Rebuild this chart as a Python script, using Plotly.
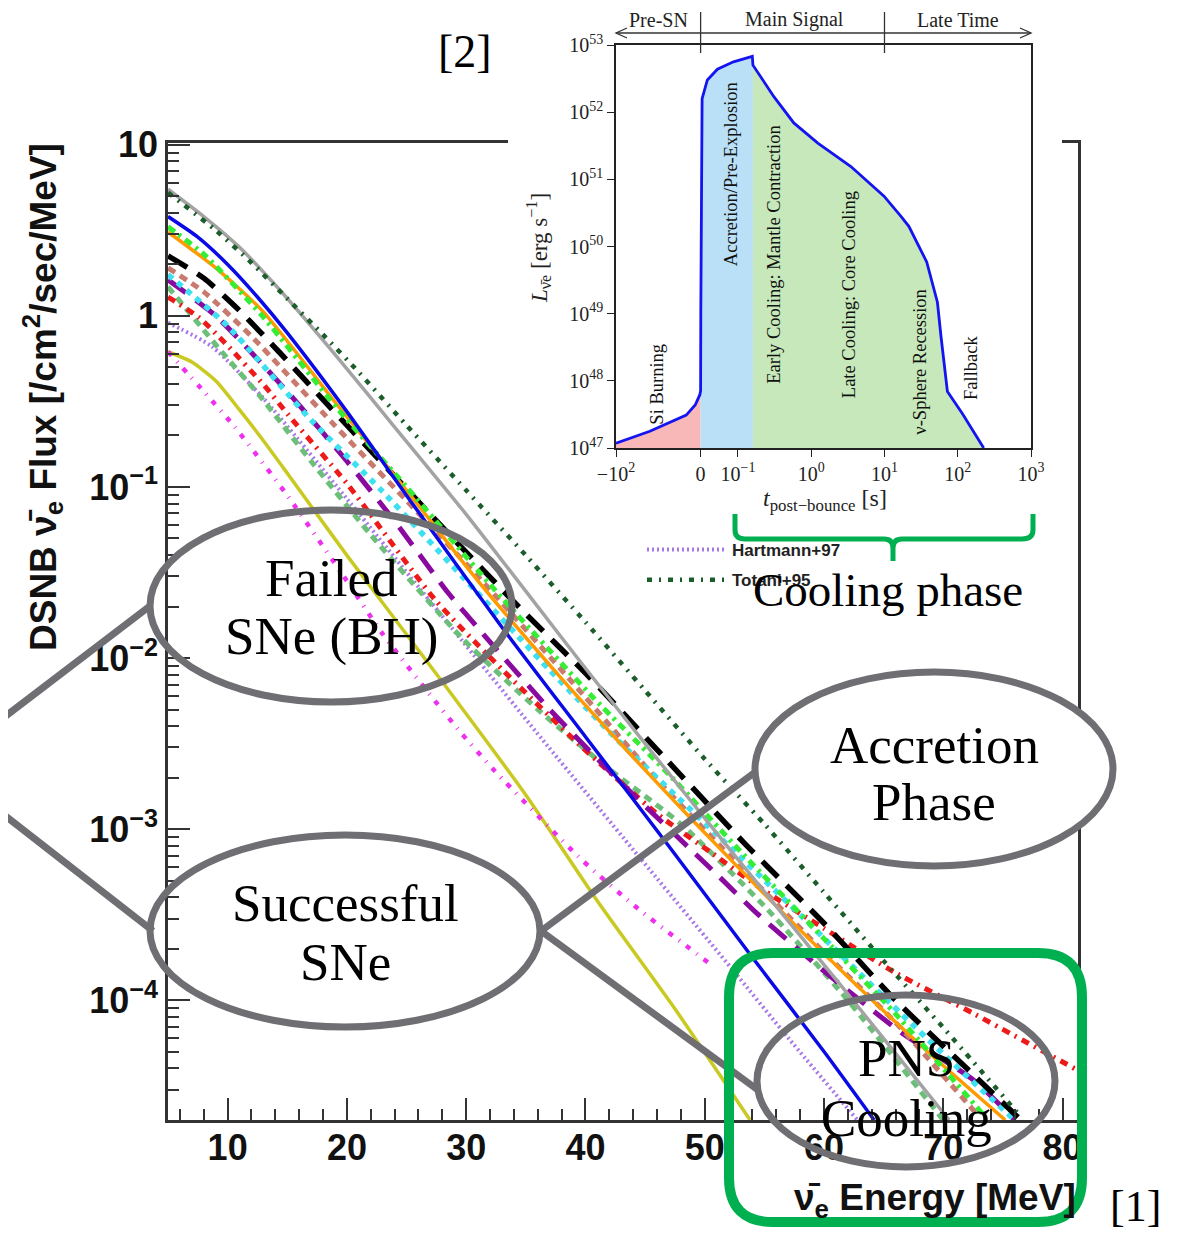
import numpy as np
import plotly.graph_objects as go

W, H = 1179, 1240          # target picture size
PAGE_OFFSET = 8            # default page margin of the html body
FW, FH = W - 2 * PAGE_OFFSET, H - 2 * PAGE_OFFSET

# ---------------- main chart data: energy [MeV] and log10(flux [/cm2/sec/MeV]) ----------------
E_TOTANI = [5, 9, 12, 15, 18, 21, 25, 30, 35, 40, 45, 50, 55, 60, 65, 70, 76.5]
LOGF_TOTANI = [0.72, 0.50, 0.31, 0.10, -0.11, -0.33, -0.64, -1.02, -1.40, -1.79, -2.19, -2.59, -2.97, -3.37, -3.77, -4.16, -4.68]

E_GRAY = [5, 8, 11, 14, 17, 20, 24, 30, 36, 40, 45, 52, 61.5, 70.5]
LOGF_GRAY = [0.74, 0.58, 0.40, 0.18, -0.06, -0.31, -0.65, -1.16, -1.70, -2.06, -2.50, -3.11, -3.92, -4.70]

E_BLUE = [5, 7.5, 10, 12.5, 15, 20, 25, 33, 40, 47, 54, 60, 64.2]
LOGF_BLUE = [0.58, 0.46, 0.30, 0.11, -0.10, -0.56, -1.05, -1.82, -2.46, -3.10, -3.75, -4.30, -4.70]

E_LIME = [5, 8, 12.9, 19.3, 25, 32, 40.5, 47, 53, 60, 66, 73.5]
LOGF_LIME = [0.52, 0.36, 0.0, -0.55, -1.00, -1.57, -2.22, -2.68, -3.13, -3.64, -4.08, -4.68]

E_ORANGE = [5, 9, 12.9, 19.3, 25, 31, 38, 44, 49, 56, 63, 69, 75.2]
LOGF_ORANGE = [0.49, 0.28, 0.03, -0.53, -1.02, -1.55, -2.12, -2.58, -2.95, -3.45, -3.93, -4.32, -4.70]

E_BLACK = [5, 8, 11, 14.3, 18, 23.5, 28.2, 34.4, 40.3, 46.6, 53.3, 60, 66, 72.6, 76.5]
LOGF_BLACK = [0.35, 0.22, 0.03, -0.21, -0.49, -0.90, -1.25, -1.70, -2.11, -2.58, -3.08, -3.55, -4.00, -4.44, -4.70]

E_CYAN = [5, 10, 17, 22.9, 30.7, 37, 43, 51, 58, 65, 71, 76]
LOGF_CYAN = [0.24, -0.06, -0.61, -1.02, -1.60, -2.07, -2.50, -3.03, -3.50, -3.98, -4.38, -4.70]

E_PURPLE = [5, 9, 12.6, 15.6, 20, 24, 28.5, 31.3, 37, 43, 50.8, 54.5, 60, 66.5, 72.6, 76]
LOGF_PURPLE = [0.21, 0.0, -0.26, -0.49, -0.85, -1.20, -1.62, -1.85, -2.30, -2.73, -3.25, -3.50, -3.83, -4.19, -4.47, -4.70]

E_RED = [5, 7.6, 9.8, 13.1, 15.1, 20, 27.4, 33.2, 39.4, 46, 50.6, 55, 60, 66, 72.6, 81.3]
LOGF_RED = [0.11, -0.01, -0.16, -0.41, -0.58, -0.98, -1.66, -2.08, -2.50, -2.91, -3.14, -3.36, -3.58, -3.84, -4.08, -4.41]

E_ROSY = [5, 8, 12, 18.7, 25, 32, 39, 46.4, 53, 60, 66, 73]
LOGF_ROSY = [0.28, 0.14, -0.12, -0.62, -1.08, -1.60, -2.15, -2.74, -3.22, -3.72, -4.13, -4.68]

E_SEAGREEN = [5, 9.5, 12.6, 17, 22, 29.6, 36, 42, 48, 55, 62, 70]
LOGF_SEAGREEN = [0.17, -0.21, -0.46, -0.85, -1.28, -1.88, -2.30, -2.65, -2.97, -3.45, -4.00, -4.70]

E_HARTMANN = [5, 8.7, 13.1, 20, 27, 36.9, 44, 52.2, 57, 62.8]
LOGF_HARTMANN = [-0.04, -0.18, -0.49, -1.07, -1.67, -2.52, -3.12, -3.81, -4.22, -4.70]

E_MAGENTA = [5, 8.1, 10.6, 15, 20, 22.9, 26.8, 29.6, 32.4, 39.7, 44.5, 50.3]
LOGF_MAGENTA = [-0.21, -0.45, -0.65, -1.05, -1.55, -1.85, -2.20, -2.44, -2.66, -3.18, -3.47, -3.78]

E_YELLOW = [5, 7, 9, 11, 13, 15, 20, 27.9, 35, 41, 47.5, 53.8]
LOGF_YELLOW = [-0.21, -0.27, -0.38, -0.55, -0.73, -0.92, -1.40, -2.13, -2.80, -3.42, -4.05, -4.70]

X_TICKS = [10, 20, 30, 40, 50, 60, 70, 80]
X_MINOR = [6, 8, 12, 14, 16, 18, 22, 24, 26, 28, 32, 34, 36, 38, 42, 44, 46, 48,
           52, 54, 56, 58, 62, 64, 66, 68, 72, 74, 76, 78]
Y_DECADES = [-4, -3, -2, -1, 0, 1]
Y_TICKTEXT = ["10<sup>\u22124</sup>", "10<sup>\u22123</sup>", "10<sup>\u22122</sup>",
              "10<sup>\u22121</sup>", "1", "10"]

# ---------------- inset data: time after bounce [s] and log10(L [erg/s]) ----------------
T_LUM = [-100, -60, -17, -6.4, -1, 0, 0.0005, 0.002, 0.004, 0.018, 0.045, 0.088, 0.157,
         0.16, 0.309, 0.578, 1.23, 3.48, 9.85, 16.8, 21.5, 37.7, 44.6, 52.8, 59.1, 66.1,
         72.3, 116, 226]
LOGL_LUM = [47.07, 47.25, 47.49, 47.64, 47.79, 47.85, 49.0, 51.5, 52.2, 52.48, 52.64, 52.75,
            52.83, 52.70, 52.23, 51.84, 51.54, 51.19, 50.75, 50.45, 50.30, 49.77, 49.46,
            49.17, 48.66, 48.16, 47.84, 47.51, 47.0]
REGION_EDGES_T = [-100, 0, 0.16, 226]
INSET_T_TICKS = [-100, 0, 0.1, 1, 10, 100, 1000]
INSET_T_TICKTEXT = ["\u221210<sup>2</sup>", "0", "10<sup>\u22121</sup>", "10<sup>0</sup>",
                    "10<sup>1</sup>", "10<sup>2</sup>", "10<sup>3</sup>"]
INSET_L_DECADES = [47, 48, 49, 50, 51, 52, 53]
PHASE_LABELS = ["Si Burning", "Accretion/Pre-Explosion", "Early Cooling: Mantle Contraction",
                "Late Cooling: Core Cooling", "\u03bd-Sphere Recession", "Fallback"]
PHASE_LABEL_T = [-51, 0.08, 0.309, 3.31, 30.2, 151]
PHASE_LABEL_LOGL = [47.95, 51.07, 49.875, 49.28, 48.28, 48.19]
SIGNAL_LABELS = ["Pre-SN", "Main Signal", "Late Time"]
SIGNAL_EDGES_T = [0, 10]

# ---------------- styles ----------------
SANS = "Liberation Sans"
SERIF = "Liberation Serif"
GRAY = "#6e6e73"
GREEN_BOX = "#00b050"

series = [
    # (name, E, logF, color, width, dash, legend)
    ("Yellow", E_YELLOW, LOGF_YELLOW, "#c9c922", 3.5, "solid", False),
    ("Magenta", E_MAGENTA, LOGF_MAGENTA, "#ee30ee", 4.5, "5px,8px,1px,8px", False),
    ("Hartmann+97", E_HARTMANN, LOGF_HARTMANN, "#a878e8", 4, "2px,3px", True),
    ("SeaGreen", E_SEAGREEN, LOGF_SEAGREEN, "#6cbf78", 5, "8px,6px", False),
    ("Red", E_RED, LOGF_RED, "#ee1a1a", 5, "8px,6px,2px,6px", False),
    ("Purple", E_PURPLE, LOGF_PURPLE, "#8a0aa0", 5, "22px,12px", False),
    ("Rosy", E_ROSY, LOGF_ROSY, "#c87a6e", 5, "8px,6px", False),
    ("Cyan", E_CYAN, LOGF_CYAN, "#3de0f0", 5.5, "6px,6px", False),
    ("Black", E_BLACK, LOGF_BLACK, "#000000", 5.5, "22px,12px", False),
    ("Orange", E_ORANGE, LOGF_ORANGE, "#ff9a00", 3.5, "solid", False),
    ("Lime", E_LIME, LOGF_LIME, "#33ee33", 5, "8px,5px,3px,5px", False),
    ("Blue", E_BLUE, LOGF_BLUE, "#0a0ae6", 3.5, "solid", False),
    ("Gray", E_GRAY, LOGF_GRAY, "#a3a3a3", 3.5, "solid", False),
    ("Totani+95", E_TOTANI, LOGF_TOTANI, "#1b5e2b", 4.5, "5px,7px,2px,7px", True),
]


def fx(p):
    """picture pixel -> paper fraction (x)"""
    return (p - PAGE_OFFSET) / FW


def fy(p):
    """picture pixel -> paper fraction (y)"""
    return 1 - (p - PAGE_OFFSET) / FH


def u_of(t):
    """symlog-like time scale of the inset (linear for t<0 and 0<=t<=0.1, log above)."""
    t = float(t)
    if t < 0:
        return 1.155 * t / 100.0
    if t <= 0.1:
        return 0.51 * t / 0.1
    return 0.51 + float(np.log10(t / 0.1))


fig = go.Figure()

for name, e, lf, color, width, dash, leg in series:
    fig.add_trace(go.Scatter(
        x=e, y=[10.0 ** v for v in lf], mode="lines", name=name,
        line=dict(color=color, width=width, dash=dash, shape="spline", smoothing=0.6),
        showlegend=leg, legendgroup=name, hoverinfo="skip", xaxis="x", yaxis="y"))

# invisible placeholder so that the white backdrop subplot behind the inset exists
fig.add_trace(go.Scatter(x=[0.5], y=[0.5], mode="markers", marker=dict(opacity=0),
                         showlegend=False, hoverinfo="skip", xaxis="x2", yaxis="y2"))

# ---------------- inset ----------------
u_lum = [u_of(t) for t in T_LUM]
fills = ["rgba(248,184,184,1)", "rgba(186,224,248,1)", "rgba(198,232,186,1)"]
for i in range(3):
    t0, t1 = REGION_EDGES_T[i], REGION_EDGES_T[i + 1]
    idx = [k for k, t in enumerate(T_LUM) if t0 <= t <= t1]
    xs = [u_lum[k] for k in idx] + [u_of(t1), u_of(t0)]
    ys = [10.0 ** LOGL_LUM[k] for k in idx] + [10.0 ** INSET_L_DECADES[0]] * 2
    fig.add_trace(go.Scatter(x=xs, y=ys, fill="toself", fillcolor=fills[i], mode="none",
                             showlegend=False, hoverinfo="skip", xaxis="x3", yaxis="y3"))
fig.add_trace(go.Scatter(x=u_lum, y=[10.0 ** v for v in LOGL_LUM], mode="lines",
                         line=dict(color="#1414f0", width=2.8), showlegend=False,
                         hoverinfo="skip", xaxis="x3", yaxis="y3"))

main_tickfont = dict(family=SANS, size=36, color="#111", weight="bold")
inset_tickfont = dict(family=SERIF, size=20, color="#222")
fig.update_layout(
    width=FW, height=FH, margin=dict(l=0, r=0, t=0, b=0, autoexpand=False),
    paper_bgcolor="white", plot_bgcolor="white", showlegend=True,
    xaxis=dict(domain=[fx(168), fx(1078)], range=[5, 81.3], anchor="y", automargin=False,
               tickmode="array", tickvals=X_TICKS, ticktext=[str(v) for v in X_TICKS],
               ticks="inside", ticklen=22, tickwidth=2, tickcolor="#333",
               ticklabelstandoff=-6,
               minor=dict(tickmode="array", tickvals=X_MINOR, ticks="inside", ticklen=11,
                          tickwidth=2, tickcolor="#333", showgrid=False),
               showline=True, linecolor="#333", linewidth=2.5, mirror=True,
               showgrid=False, zeroline=False, tickfont=main_tickfont),
    yaxis=dict(domain=[fy(1120), fy(143)], type="log", range=[-4.70, 1.01], anchor="x",
               automargin=False,
               tickmode="array", tickvals=[10.0 ** d for d in Y_DECADES], ticktext=Y_TICKTEXT,
               ticks="inside", ticklen=22, tickwidth=2, tickcolor="#333",
               minor=dict(tickmode="array",
                          tickvals=[m * 10.0 ** d for d in range(-5, 1) for m in range(2, 10)],
                          ticks="inside", ticklen=11, tickwidth=2, tickcolor="#333",
                          showgrid=False),
               showline=True, linecolor="#333", linewidth=2.5, mirror=True,
               showgrid=False, zeroline=False, tickfont=main_tickfont),
    # white backdrop behind the inset
    xaxis2=dict(domain=[fx(508), fx(1062)], anchor="y2", visible=False, range=[0, 1],
                automargin=False, fixedrange=True),
    yaxis2=dict(domain=[fy(532), 1.0], anchor="x2", visible=False, range=[0, 1],
                automargin=False, fixedrange=True),
    # inset axes
    xaxis3=dict(domain=[fx(616), fx(1031)], anchor="y3", range=[u_of(-100), u_of(1000)],
                automargin=False,
                tickmode="array", tickvals=[u_of(t) for t in INSET_T_TICKS],
                ticktext=INSET_T_TICKTEXT, ticks="outside", ticklen=7, tickwidth=1.3,
                tickcolor="#222", showline=True, linecolor="#222", linewidth=1.6,
                mirror=True, showgrid=False, zeroline=False, tickfont=inset_tickfont),
    yaxis3=dict(domain=[fy(448), fy(45)], anchor="x3", type="log", range=[47, 53],
                automargin=False,
                tickmode="array", tickvals=[10.0 ** d for d in INSET_L_DECADES],
                ticktext=["10<sup>%d</sup>" % d for d in INSET_L_DECADES],
                ticks="outside", ticklen=7, tickwidth=1.3, tickcolor="#222",
                showline=True, linecolor="#222", linewidth=1.6, mirror=True,
                showgrid=False, zeroline=False, tickfont=inset_tickfont),
    legend=dict(x=fx(642), y=fy(532), xanchor="left", yanchor="top",
                bgcolor="rgba(0,0,0,0)", itemwidth=80, tracegroupgap=5,
                font=dict(family=SANS, size=17, color="#222", weight="bold")),
)

annotations = []
shapes = []


def label(txt, xx, yy, font, angle=0, xanchor="center", xref="paper", yref="paper"):
    return dict(xref=xref, yref=yref, x=xx, y=yy, text=txt, textangle=angle,
                xanchor=xanchor, yanchor="middle", showarrow=False, font=font)


# main axis titles
annotations.append(label("DSNB \u03bd\u0304<sub>e</sub> Flux [/cm<sup>2</sup>/sec/MeV]",
                         fx(42), fy(397), dict(family=SANS, size=37, color="#111", weight="bold"),
                         angle=-90))
annotations.append(label("\u03bd\u0304<sub>e</sub> Energy [MeV]", fx(1078), fy(1200),
                         dict(family=SANS, size=37, color="#111", weight="bold"),
                         xanchor="right"))

# inset titles
annotations.append(label("<i>L</i><sub>\u03bd\u0304e</sub> [erg s<sup>\u22121</sup>]",
                         fx(539), fy(248), dict(family=SERIF, size=23, color="#222"), angle=-90))
annotations.append(label("<i>t</i><sub>post\u2212bounce</sub> [s]", fx(825), fy(500),
                         dict(family=SERIF, size=24, color="#222")))

# phase labels inside the inset
for lab, t, ll in zip(PHASE_LABELS, PHASE_LABEL_T, PHASE_LABEL_LOGL):
    annotations.append(label(lab, u_of(t), ll, dict(family=SERIF, size=18.5, color="#111"),
                             angle=-90, xref="x3", yref="y3"))

# signal bar above the inset
bar_y = 33
shapes.append(dict(type="line", xref="paper", yref="paper", x0=fx(616), x1=fx(1031),
                   y0=fy(bar_y), y1=fy(bar_y), line=dict(color="#333", width=1.3), layer="above"))
for xa, sgn in [(616, 1), (1031, -1)]:
    shapes.append(dict(type="path", xref="paper", yref="paper",
                       path="M %f,%f L %f,%f L %f,%f" % (fx(xa + sgn * 11), fy(bar_y - 5),
                                                          fx(xa), fy(bar_y),
                                                          fx(xa + sgn * 11), fy(bar_y + 5)),
                       line=dict(color="#333", width=1.3), layer="above"))
for t in SIGNAL_EDGES_T:
    shapes.append(dict(type="line", xref="x3", yref="paper", x0=u_of(t), x1=u_of(t),
                       y0=fy(53), y1=fy(12), line=dict(color="#333", width=1.3), layer="above"))
sig_x = [658, 794, 958]
for lab, xx in zip(SIGNAL_LABELS, sig_x):
    annotations.append(label(lab, fx(xx), fy(20), dict(family=SERIF, size=20, color="#222")))


def ellipse(cx, cy, rx, ry, fill=None):
    d = dict(type="circle", xref="paper", yref="paper", x0=fx(cx - rx), x1=fx(cx + rx),
             y0=fy(cy + ry), y1=fy(cy - ry), line=dict(color=GRAY, width=7), layer="above")
    if fill:
        d["fillcolor"] = fill
    return d


def seg(x0, y0, x1, y1, color=GRAY, width=7):
    return dict(type="line", xref="paper", yref="paper", x0=fx(x0), y0=fy(y0), x1=fx(x1),
                y1=fy(y1), line=dict(color=color, width=width), layer="above")


# connector lines
shapes += [seg(150, 606, -10, 728), seg(-10, 804, 153, 931),
           seg(541, 931, 758, 770), seg(541, 931, 758, 1090)]
# ellipses
shapes += [ellipse(331, 606, 181, 96), ellipse(345, 931, 195, 96),
           ellipse(934, 769, 179, 97, fill="white"), ellipse(906, 1081, 149, 86)]


def rounded_rect(x0, y0, x1, y1, r):
    X = lambda v: "%.5f" % fx(v)
    Y = lambda v: "%.5f" % fy(v)
    return ("M %s,%s L %s,%s Q %s,%s %s,%s L %s,%s Q %s,%s %s,%s L %s,%s Q %s,%s %s,%s "
            "L %s,%s Q %s,%s %s,%s Z") % (
        X(x0 + r), Y(y0), X(x1 - r), Y(y0), X(x1), Y(y0), X(x1), Y(y0 + r),
        X(x1), Y(y1 - r), X(x1), Y(y1), X(x1 - r), Y(y1),
        X(x0 + r), Y(y1), X(x0), Y(y1), X(x0), Y(y1 - r),
        X(x0), Y(y0 + r), X(x0), Y(y0), X(x0 + r), Y(y0))


shapes.append(dict(type="path", xref="paper", yref="paper",
                   path=rounded_rect(729, 953, 1082, 1222, 44),
                   line=dict(color=GREEN_BOX, width=10), layer="above"))

# curly bracket "Cooling phase"
X = lambda v: "%.5f" % fx(v)
Y = lambda v: "%.5f" % fy(v)
br = ("M %s,%s L %s,%s Q %s,%s %s,%s L %s,%s Q %s,%s %s,%s L %s,%s "
      "M %s,%s Q %s,%s %s,%s L %s,%s Q %s,%s %s,%s L %s,%s") % (
    X(735), Y(514), X(735), Y(530), X(735), Y(539), X(745), Y(539),
    X(884), Y(539), X(893), Y(539), X(893), Y(548), X(893), Y(561),
    X(893), Y(548), X(893), Y(539), X(902), Y(539), X(1022), Y(539),
    X(1033), Y(539), X(1033), Y(530), X(1033), Y(514))
shapes.append(dict(type="path", xref="paper", yref="paper", path=br,
                   line=dict(color=GREEN_BOX, width=5), layer="above"))

# big serif labels (one annotation per line)
for txt, xx, yy, sz in [("Failed", 331, 578, 53), ("SNe (BH)", 331, 637, 53),
                        ("Successful", 345, 903, 53), ("SNe", 345, 962, 53),
                        ("Accretion", 934, 745, 53), ("Phase", 934, 802, 53),
                        ("PNS", 906, 1058, 53), ("Cooling", 906, 1118, 53),
                        ("Cooling phase", 888, 590, 47),
                        ("[2]", 465, 52, 46),
                        ("[1]", 1135, 1206, 44)]:
    annotations.append(label(txt, fx(xx), fy(yy), dict(family=SERIF, size=sz, color="#000")))

fig.update_layout(annotations=annotations, shapes=shapes)
fig.write_html("out.html")
